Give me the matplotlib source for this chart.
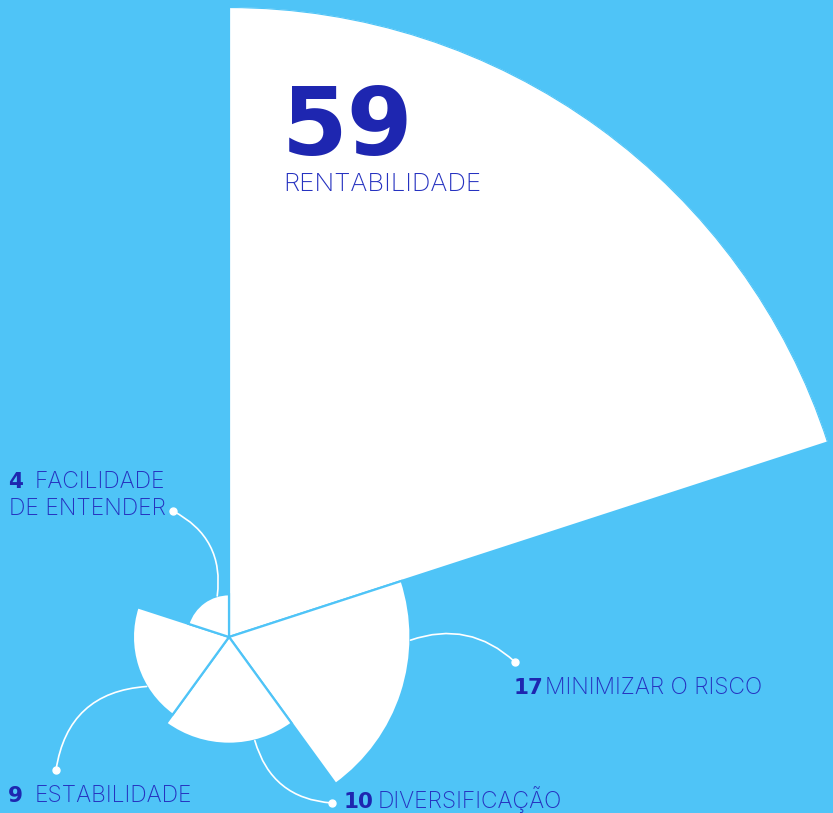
import numpy as np
import matplotlib
matplotlib.use("Agg")
import matplotlib.pyplot as plt
from matplotlib.lines import Line2D

# ---- data ----
categories = ["RENTABILIDADE", "MINIMIZAR O RISCO", "DIVERSIFICAÇÃO", "ESTABILIDADE", "FACILIDADE\nDE ENTENDER"]
values = [59, 17, 10, 9, 4]

BG = "#4FC4F7"
NUM_C = "#1E26B0"
LAB_C = "#2632C0"

W, H = 833, 813
fig = plt.figure(figsize=(W / 100, H / 100), dpi=100, facecolor=BG)

# polar axes: centre at (229, 637) image px, 59 -> 630 px
cx, cy = 229, H - 637
R = 630
ax = fig.add_axes([(cx - R) / W, (cy - R) / H, 2 * R / W, 2 * R / H], projection="polar")
ax.set_theta_zero_location("N")
ax.set_theta_direction(-1)
ax.set_ylim(0, max(values))
ax.set_axis_off()

n = len(values)
width = 2 * np.pi / n
theta = np.arange(n) * width + width / 2
ax.bar(theta, values, width=width, bottom=0, color="white", edgecolor=BG, linewidth=1.6, zorder=2)

def fp(x, y):
    return (x / W, 1 - y / H)

num_font = dict(family="DejaVu Sans", weight="bold", color=NUM_C)
lab_font = dict(family="Inter", weight="light", color=LAB_C)

# big label
fig.text(*fp(282, 155), str(values[0]), fontsize=68, va="baseline", ha="left", **num_font)
fig.text(*fp(283, 191), categories[0], fontsize=18.6, va="baseline", ha="left", **lab_font)

# small labels: (number x, label x, baseline y)
fig.text(*fp(514, 694), str(values[1]), fontsize=15.5, va="baseline", ha="left", **num_font)
fig.text(*fp(545, 694), categories[1], fontsize=16.5, va="baseline", ha="left", **lab_font)

fig.text(*fp(344, 808), str(values[2]), fontsize=15.5, va="baseline", ha="left", **num_font)
fig.text(*fp(378, 808), categories[2], fontsize=16.5, va="baseline", ha="left", **lab_font)

fig.text(*fp(8, 802), str(values[3]), fontsize=15.5, va="baseline", ha="left", **num_font)
fig.text(*fp(35, 802), categories[3], fontsize=16.5, va="baseline", ha="left", **lab_font)

fig.text(*fp(8, 488), str(values[4]), fontsize=15.5, va="baseline", ha="left", **num_font)
fig.text(*fp(35, 488), categories[4].split("\n")[0], fontsize=16.5, va="baseline", ha="left", **lab_font)
fig.text(*fp(9, 515), categories[4].split("\n")[1], fontsize=16.5, va="baseline", ha="left", **lab_font)

# leader lines: start on wedge arc (theta deg, r), end at label dot (image px), curvature
leaders = [
    (91, values[1], (515, 662), -0.3),
    (166, values[2], (332, 803), 0.35),
    (239, values[3], (56, 770), 0.4),
    (344, values[4], (173, 511), 0.35),
]
for th, r, (ex, ey), rad in leaders:
    ax.annotate("", xy=(ex, H - ey), xycoords="figure pixels",
                xytext=(np.deg2rad(th), r), textcoords="data",
                arrowprops=dict(arrowstyle="-", color="white", lw=1.2,
                                shrinkA=0, shrinkB=0,
                                connectionstyle=f"arc3,rad={rad}"),
                annotation_clip=False)
    fig.add_artist(Line2D([ex / W], [1 - ey / H], transform=fig.transFigure,
                          marker="o", markersize=5, color="white", linestyle="none"))

fig.savefig("out.png", dpi=100, facecolor=BG)
